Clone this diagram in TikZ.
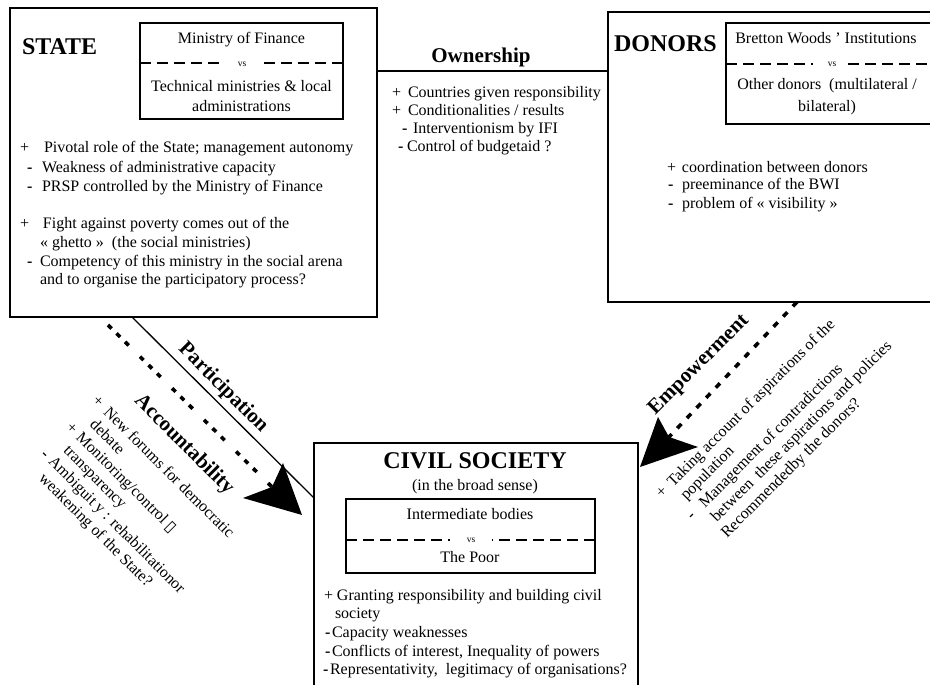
\documentclass[tikz,border=0pt]{standalone}
\usepackage{fontspec}
\setmainfont{Liberation Serif}
\newfontfamily\symfont{DejaVu Sans}
\usetikzlibrary{calc}
\newcommand\fsz[2]{\fontsize{#1}{#2}\selectfont}
\newcommand\bul[3]{\makebox[#1][l]{\hspace{#2}#3}}
\newcommand\mn{\textbf{-}}
\begin{document}
\begin{tikzpicture}[x=1pt,y=-1pt,
  box/.style={draw, line width=1.5pt, inner sep=0pt, outer sep=0pt},
  ibox/.style={draw, line width=1.3pt, inner sep=0pt, outer sep=0pt},
  sep/.style={line width=2.6pt, dash pattern=on 11pt off 6pt},
  txt/.style={inner sep=0pt, outer sep=0pt, anchor=base west, font=\fsz{16}{18.5}},
  ctxt/.style={inner sep=0pt, outer sep=0pt, anchor=base, font=\fsz{16}{18.5}},
  rtxt/.style={inner sep=0pt, outer sep=0pt, anchor=north west, align=left, font=\fsz{16}{18.5}},
  head/.style={inner sep=0pt, outer sep=0pt, font=\fsz{24}{26}\bfseries},
  lab/.style={inner sep=0pt, outer sep=0pt, font=\fsz{21}{24}\bfseries},
  vstxt/.style={inner sep=0pt, outer sep=0pt, font=\fsz{9.5}{10}},
  flowacc/.style={line width=3.6pt, dash pattern=on 5pt off 7pt on 5pt off 7pt on 5pt off 16pt},
  flowemp/.style={line width=3.6pt, dash pattern=on 6pt off 8pt},
  plain/.style={line width=1.3pt}]
\useasboundingbox (0,0) rectangle (930,685);
\begin{scope}
\clip (0,0) rectangle (930,685);
% ---------- STATE ----------
\node[box, anchor=north west, minimum width=367pt, minimum height=309pt] (state) at (10,8) {};
\node[ibox, anchor=north west, minimum width=203pt, minimum height=96pt] (sin) at (140,23) {};
% ---------- DONORS ----------
\node[box, anchor=north west, minimum width=330pt, minimum height=290pt] (donors) at (608,12) {};
\node[ibox, anchor=north west, minimum width=212pt, minimum height=101pt] (din) at (726,23) {};
% ---------- CIVIL SOCIETY ----------
\node[box, anchor=north west, minimum width=324pt, minimum height=260pt] (civil) at (314,443) {};
\node[ibox, anchor=north west, minimum width=249pt, minimum height=74pt] (cin) at (346,499) {};
\end{scope}

% headings
\node[head, anchor=base west] (stateh) at (22,55) {STATE};
\node[head, anchor=base west] (donorsh) at (614,52) {DONORS};
\node[head, anchor=base] (civilh) at (475,468) {CIVIL SOCIETY};
\node[ctxt] (civilsub) at (475,490) {(in the broad sense)};

% inner box of STATE
\node[ctxt] (sin1) at (241.5,44) {Ministry of Finance};
\node[vstxt] (sinvs) at (242,64) {vs};
\draw[sep] ($(sin.north west)+(0,40)$) -- ++(82,0);
\draw[sep] ($(sin.north east)+(0,40)$) -- ++(-81,0);
\node[ctxt] (sin2) at (241.5,92) {Technical ministries \& local};
\node[ctxt] (sin3) at (241.5,111) {administrations};

% inner box of DONORS
\node[ctxt] (din1) at (826,44) {Bretton Woods ’ Institutions};
\node[vstxt] (dinvs) at (832,64) {vs};
\draw[sep] ($(din.north west)+(0,41)$) -- ++(87,0);
\draw[sep] ($(din.north west)+(122,41)$) -- ++(90,0);
\node[ctxt] (din2) at (827,89) {Other donors\ \ (multilateral /};
\node[ctxt] (din3) at (827,112) {bilateral)};

% inner box of CIVIL SOCIETY
\node[ctxt] (cin1) at (470,519) {Intermediate bodies};
\node[vstxt] (cinvs) at (471,540) {vs};
\draw[sep] ($(cin.north west)+(0,41)$) -- ++(104,0);
\draw[sep] ($(cin.north east)+(0,41)$) -- ++(-103,0);
\node[ctxt] (cin2) at (470,562) {The Poor};

% STATE notes
\node[txt] (s1) at (20,153) {\bul{24pt}{0pt}{+}Pivotal role of the State; management autonomy};
\node[txt] (s2) at (20,172) {\bul{22pt}{7pt}{\mn}Weakness of administrative capacity};
\node[txt] (s3) at (20,191) {\bul{22pt}{7pt}{\mn}PRSP controlled by the Ministry of Finance};
\node[txt] (s4) at (20,228) {\bul{23pt}{0pt}{+}Fight against poverty comes out of the};
\node[txt] (s5) at (40,247) {« ghetto »\ \ (the social ministries)};
\node[txt] (s6) at (20,266) {\bul{20pt}{7pt}{\mn}Competency of this ministry in the social arena};
\node[txt] (s7) at (40,284) {and to organise the participatory process?};

% ownership
\draw[plain] ($(state.north east)+(0,63)$) coordinate (ow1) -- ($(donors.north west)+(0,59)$) coordinate (ow2);
\node[lab, anchor=base] (ownl) at (481,63) {Ownership};
\node[txt] (o1) at (392,98) {\bul{16pt}{0pt}{+}Countries given responsibility};
\node[txt] (o2) at (392,116) {\bul{16pt}{0pt}{+}Conditionalities / results};
\node[txt] (o3) at (398,133) {\bul{15pt}{4pt}{\mn}Interventionism by IFI};
\node[txt] (o4) at (396,151) {\bul{11pt}{2pt}{\mn}Control of budgetaid ?};

% DONORS notes
\node[txt] (d1) at (667,172) {\bul{15pt}{0pt}{+}coordination between donors};
\node[txt] (d2) at (667,189) {\bul{15pt}{1pt}{\mn}preeminance of the BWI};
\node[txt] (d3) at (667,208) {\bul{15pt}{1pt}{\mn}problem of « visibility »};

% CIVIL notes
\node[txt] (c1) at (324,600) {\bul{13pt}{0pt}{+}Granting responsibility and building civil};
\node[txt] (c2) at (335,618) {society};
\node[txt] (c3) at (324,637) {\bul{8pt}{1pt}{\mn}Capacity weaknesses};
\node[txt] (c4) at (324,656) {\bul{8pt}{1pt}{\mn}Conflicts of interest, Inequality of powers};
\node[txt] (c5) at (322,674) {\bul{8pt}{1pt}{\mn}Representativity,\ \ legitimacy of organisations?};

% participation
\draw[plain] ($(state.south west)+(122,0)$) coordinate (pa1) -- ($(civil.north west)+(0,55)$) coordinate (pa2);
\node[lab, rotate=-45] (particip) at (223,388) {Participation};

% accountability
\coordinate (ac1) at ($(state.south west)+(98,8)$);
\coordinate (acn) at (272,487);
\coordinate (act) at (283,463);
\coordinate (acp) at (302,515);
\coordinate (acl) at (243,498);
\draw[flowacc] (ac1) -- (acn);
\fill (act) -- (acp) -- (acl) -- (acn) -- cycle;
\node[lab, rotate=-45] (account) at (184,445) {Accountability};
\node[rtxt, rotate=-45] (accnotes) at (99.6,394) {\bul{16pt}{0pt}{+}New forums for democratic\\
\hspace{15pt}debate\\
\bul{14pt}{0pt}{+}Monitoring/control {\symfont ▯}\\
\hspace{15pt}transparency\\
\bul{12pt}{1pt}{\mn}Ambiguit y : rehabilitationor\\
\hspace{17pt}weakening of the State?};

% empowerment
\coordinate (em1) at ($(donors.south west)+(189,0)$);
\coordinate (emn) at (669,437);
\coordinate (emt) at (658,417);
\coordinate (emp) at (640,467);
\coordinate (emr) at (698,447);
\draw[flowemp] (em1) -- (emn);
\fill (emt) -- (emp) -- (emr) -- (emn) -- cycle;
\node[lab, rotate=45] (empower) at (699,365) {Empowerment};
\node[rtxt, rotate=45] (empnotes) at (654,491) {\bul{16pt}{0pt}{+}Taking account of aspirations of the\\
\hspace{16pt}population\\
\bul{24pt}{6pt}{\mn}Management of contradictions\\
\hspace{22pt}between\ \ these aspirations and policies\\
\hspace{18pt}Recommendedby the donors?};
\end{tikzpicture}
\end{document}
